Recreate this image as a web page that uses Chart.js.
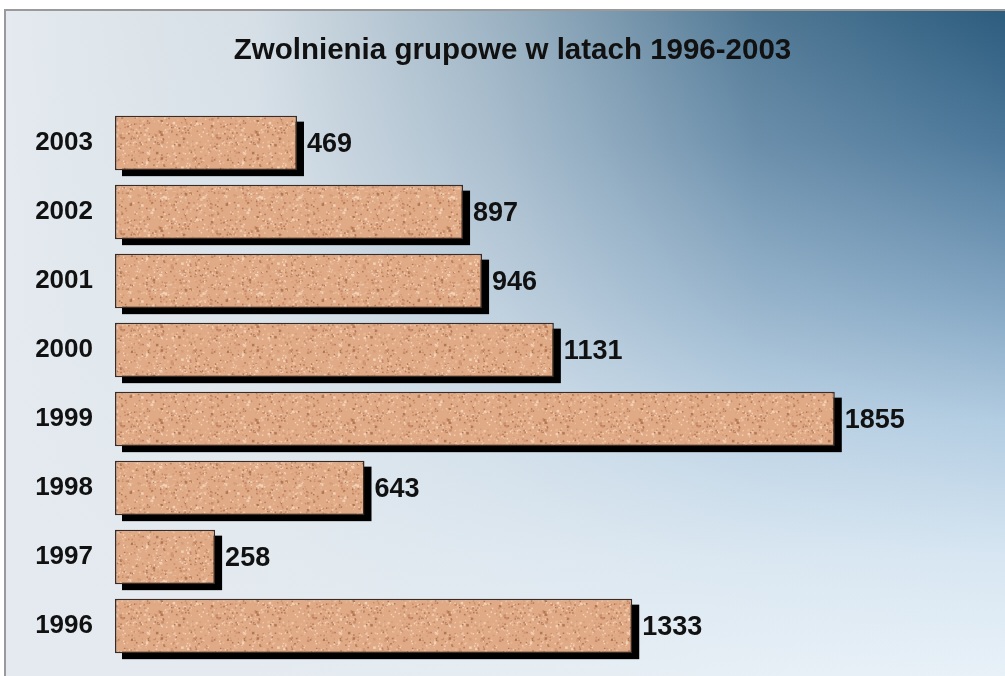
<!DOCTYPE html>
<html>
<head>
<meta charset="utf-8">
<script src="https://cdn.jsdelivr.net/npm/chart.js@4"></script>
<style>
  html, body { margin: 0; padding: 0; background: #fff; }
  #wrap { width: 1005px; height: 676px; position: relative; }
</style>
</head>
<body>
<div id="wrap"><canvas id="chart"></canvas></div>
<script>
const years = ['1996', '1997', '1998', '1999', '2000', '2001', '2002', '2003'];
const layoffs = [1333, 258, 643, 1855, 1131, 946, 897, 469];
const titleText = 'Zwolnienia grupowe w latach 1996-2003';

const FONT = '"Liberation Sans", Arial, sans-serif';

// sandstone-like texture for the bars
function makeTexture() {
  const c = document.createElement('canvas');
  c.width = 96; c.height = 96;
  const g = c.getContext('2d');
  g.fillStyle = '#e0aa86';
  g.fillRect(0, 0, 96, 96);
  let s = 12345;
  function next() { s = (s * 1103515245 + 12345) & 0x7fffffff; return s / 0x7fffffff; }
  const tones = ['#efc6a6', '#f3d2b8', '#d49a76', '#c98c68', '#e8b896', '#b27654'];
  for (let i = 0; i < 900; i++) {
    g.fillStyle = tones[Math.floor(next() * tones.length)];
    const r = next() < 0.9 ? 1.5 : 2.5;
    g.fillRect(next() * 96, next() * 96, r, r);
  }
  return g.createPattern(c, 'repeat');
}

const backdrop = {
  id: 'backdrop',
  beforeDraw(chart) {
    const ctx = chart.ctx;
    const w = chart.width, h = chart.height;
    ctx.save();
    // vertical: dark blue at top, very light at bottom
    const v = ctx.createLinearGradient(0, 10, 0, h);
    v.addColorStop(0, '#2c5c7e');
    v.addColorStop(0.2, '#4d789a');
    v.addColorStop(0.43, '#82a5c2');
    v.addColorStop(0.62, '#b3cde2');
    v.addColorStop(0.82, '#d7e6f2');
    v.addColorStop(1, '#e8f1f8');
    ctx.fillStyle = v;
    ctx.fillRect(5, 10, w - 5, h - 10);
    // light haze from the left
    const hz = ctx.createLinearGradient(5, 0, w, 0);
    hz.addColorStop(0, 'rgba(228,234,239,1)');
    hz.addColorStop(0.25, 'rgba(228,234,239,0.92)');
    hz.addColorStop(0.5, 'rgba(228,234,239,0.6)');
    hz.addColorStop(0.75, 'rgba(228,234,239,0.2)');
    hz.addColorStop(1, 'rgba(228,234,239,0)');
    ctx.fillStyle = hz;
    ctx.fillRect(5, 10, w - 5, h - 10);
    ctx.strokeStyle = '#9a9a9a';
    ctx.lineWidth = 2;
    ctx.beginPath();
    ctx.moveTo(5, h);
    ctx.lineTo(5, 10);
    ctx.lineTo(w, 10);
    ctx.stroke();
    ctx.restore();
  }
};

const barShadow = {
  id: 'barShadow',
  beforeDatasetsDraw(chart) {
    const ctx = chart.ctx;
    ctx.save();
    ctx.fillStyle = '#000';
    chart.getDatasetMeta(0).data.forEach(function(bar) {
      const top = bar.y - bar.height / 2;
      ctx.fillRect(bar.base + 7, top + 6, bar.x - bar.base, bar.height);
    });
    ctx.restore();
  }
};

const valueLabels = {
  id: 'valueLabels',
  afterDatasetsDraw(chart) {
    const ctx = chart.ctx;
    ctx.save();
    ctx.fillStyle = '#111';
    ctx.font = 'bold 27px ' + FONT;
    ctx.textBaseline = 'middle';
    ctx.textAlign = 'left';
    chart.getDatasetMeta(0).data.forEach(function(bar, i) {
      ctx.fillText(layoffs[i], bar.x + 10, bar.y + 2);
    });
    ctx.restore();
  }
};

const ctx = document.getElementById('chart').getContext('2d');
new Chart(ctx, {
  type: 'bar',
  data: {
    labels: years,
    datasets: [{
      data: layoffs,
      backgroundColor: makeTexture(),
      borderColor: '#3b2b22',
      borderWidth: 1.5,
      borderSkipped: false,
      categoryPercentage: 1,
      barPercentage: 0.79
    }]
  },
  options: {
    indexAxis: 'y',
    responsive: true,
    maintainAspectRatio: false,
    animation: false,
    layout: { padding: { top: 33, bottom: 15, left: 35, right: 15 } },
    plugins: {
      legend: { display: false },
      tooltip: { enabled: false },
      title: {
        display: true,
        text: titleText,
        color: '#111',
        font: { family: FONT, size: 29.5, weight: 'bold' },
        padding: { top: 0, bottom: 40 }
      }
    },
    scales: {
      x: { display: false, min: 0, max: 2255 },
      y: {
        reverse: true,
        grid: { display: false, tickLength: 22 },
        border: { display: false },
        afterFit: function(scale) { scale.width = 80; },
        ticks: {
          color: '#111',
          padding: 0,
          font: { family: FONT, size: 26, weight: 'bold' }
        }
      }
    }
  },
  plugins: [backdrop, barShadow, valueLabels]
});
</script>
</body>
</html>
